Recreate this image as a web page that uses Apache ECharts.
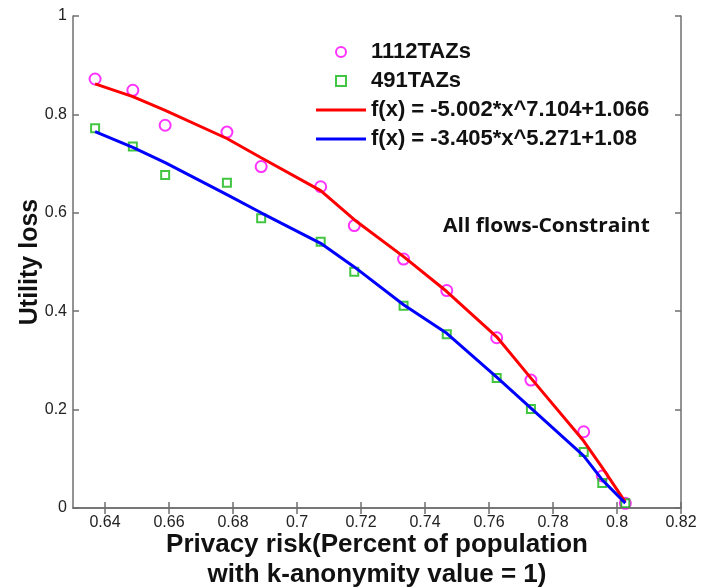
<!DOCTYPE html>
<html>
<head>
<meta charset="utf-8">
<script src="https://cdn.jsdelivr.net/npm/echarts@6/dist/echarts.min.js"></script>
<style>
  html, body { margin: 0; padding: 0; background: #fff; }
  #main { width: 714px; height: 587px; }
</style>
</head>
<body>
<div id="main"></div>
<script>
// privacy risk (x) shared by both data sets and the fitted curves
var riskX = [0.6369, 0.6487, 0.6588, 0.6781, 0.6888, 0.7074, 0.7179, 0.7333, 0.7468, 0.7624, 0.7731, 0.7896, 0.7954, 0.8026];
// measured utility loss
var loss1112 = [0.872, 0.849, 0.778, 0.764, 0.694, 0.653, 0.574, 0.506, 0.442, 0.346, 0.260, 0.155, 0.065, 0.0095];
var loss491 = [0.772, 0.735, 0.677, 0.661, 0.589, 0.541, 0.480, 0.411, 0.353, 0.264, 0.201, 0.114, 0.051, 0.0095];
// fitted curves at the same x
var fit1112 = [0.862, 0.836, 0.808, 0.751, 0.712, 0.645, 0.586, 0.511, 0.440, 0.348, 0.264, 0.136, 0.082, 0.012];
var fit491 = [0.765, 0.733, 0.702, 0.637, 0.600, 0.538, 0.490, 0.413, 0.355, 0.266, 0.203, 0.106, 0.057, 0.010];

var names = ['1112TAZs', '491TAZs', 'f(x) = -5.002*x^7.104+1.066', 'f(x) = -3.405*x^5.271+1.08'];
var xTicks = [0.64, 0.66, 0.68, 0.70, 0.72, 0.74, 0.76, 0.78, 0.80, 0.82];

function pairs(xs, ys) {
  return xs.map(function (x, i) { return [x, ys[i]]; });
}
function fmt(v) { return String(+(+v).toFixed(2)); }

var axisLineStyle = { color: '#6f6f6f', width: 1.5 };
var font = 'Liberation Sans, Arial, sans-serif';
var lineIcon = 'path://M0,0L50,0L50,3L0,3Z';
var squareIcon = 'path://M0,0L8,0L8,8L0,8Z';

var chart = echarts.init(document.getElementById('main'));

var option = {
  animation: false,
  backgroundColor: '#fff',
  grid: { left: 73, top: 16, right: 33, bottom: 79, containLabel: false, outerBoundsMode: 'none' },
  legend: {
    data: [
      { name: names[0], icon: 'circle' },
      { name: names[1], icon: squareIcon },
      { name: names[2], icon: lineIcon },
      { name: names[3], icon: lineIcon }
    ],
    left: 316,
    top: 41,
    orient: 'vertical',
    padding: 0,
    itemWidth: 50,
    itemHeight: 10,
    itemGap: 7,
    textStyle: { fontFamily: font, fontWeight: 'bold', fontSize: 22, color: '#111', lineHeight: 22 }
  },
  graphic: [{
    type: 'text',
    left: 443,
    top: 216,
    scaleX: 1.05,
    style: { text: 'All flows-Constraint', font: 'bold 20px "Open Sans", sans-serif', fill: '#111' }
  }],
  xAxis: [{
    type: 'value',
    min: 0.63,
    max: 0.82,
    position: 'bottom',
    name: 'Privacy risk(Percent of population\nwith k-anonymity value = 1)',
    nameLocation: 'middle',
    nameGap: 22,
    nameMoveOverlap: false,
    nameTextStyle: { fontFamily: font, fontWeight: 'bold', fontSize: 26, color: '#111', lineHeight: 30 },
    axisLine: { show: true, lineStyle: axisLineStyle },
    axisTick: { show: true, inside: true, length: 6, customValues: xTicks, lineStyle: axisLineStyle },
    axisLabel: { customValues: xTicks, formatter: fmt, margin: 7, fontFamily: font, fontSize: 16, color: '#222' },
    splitLine: { show: false }
  }, {
    type: 'value',
    min: 0.63,
    max: 0.82,
    position: 'top',
    axisLine: { show: true, lineStyle: axisLineStyle },
    axisTick: { show: true, inside: true, length: 6, customValues: xTicks, lineStyle: axisLineStyle },
    axisLabel: { show: false },
    splitLine: { show: false }
  }],
  yAxis: [{
    type: 'value',
    min: 0,
    max: 1,
    interval: 0.2,
    position: 'left',
    name: 'Utility loss',
    nameLocation: 'middle',
    nameGap: 30,
    nameMoveOverlap: false,
    nameTextStyle: { fontFamily: font, fontWeight: 'bold', fontSize: 25, color: '#111' },
    axisLine: { show: true, lineStyle: axisLineStyle },
    axisTick: { show: true, inside: true, length: 6, lineStyle: axisLineStyle },
    axisLabel: { formatter: fmt, margin: 6, fontFamily: font, fontSize: 16, color: '#222' },
    splitLine: { show: false }
  }, {
    type: 'value',
    min: 0,
    max: 1,
    interval: 0.2,
    position: 'right',
    axisLine: { show: true, lineStyle: axisLineStyle },
    axisTick: { show: true, inside: true, length: 6, lineStyle: axisLineStyle },
    axisLabel: { show: false },
    splitLine: { show: false }
  }],
  series: [{
    name: names[0],
    type: 'scatter',
    symbol: 'circle',
    symbolSize: 11,
    itemStyle: { color: 'rgba(255,255,255,0)', borderColor: '#ff00ff', borderWidth: 2 },
    data: pairs(riskX, loss1112),
    z: 2
  }, {
    name: names[1],
    type: 'scatter',
    symbol: 'rect',
    symbolSize: 8,
    itemStyle: { color: 'rgba(255,255,255,0)', borderColor: '#13b713', borderWidth: 2 },
    data: pairs(riskX, loss491),
    z: 2
  }, {
    name: names[2],
    type: 'line',
    symbol: 'none',
    smooth: false,
    lineStyle: { color: '#ff0000', width: 3 },
    itemStyle: { color: '#ff0000' },
    data: pairs(riskX, fit1112),
    z: 3
  }, {
    name: names[3],
    type: 'line',
    symbol: 'none',
    smooth: false,
    lineStyle: { color: '#0000ff', width: 3 },
    itemStyle: { color: '#0000ff' },
    data: pairs(riskX, fit491),
    z: 3
  }]
};

chart.setOption(option);
</script>
</body>
</html>
